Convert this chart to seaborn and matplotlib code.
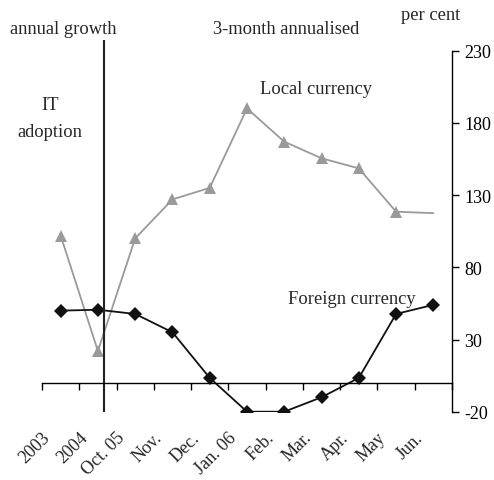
import numpy as np
import pandas as pd
import matplotlib
matplotlib.use("Agg")
import matplotlib.pyplot as plt
import matplotlib.transforms as mtransforms
import seaborn as sns

categories = ["2003", "2004", "Oct. 05", "Nov.", "Dec.", "Jan. 06", "Feb.", "Mar.", "Apr.", "May", "Jun."]
local_currency = [102, 22, 100, 127, 135, 190, 167, 155.5, 148.5, 118.5, 117.5]
foreign_currency = [50, 50.6, 47.7, 35, 3.4, -20, -20, -10, 3.4, 47.7, 54]
y_ticks = [-20, 30, 80, 130, 180, 230]
it_adoption_pos = 1.16

sns.set_style("white")
plt.rcParams["font.family"] = ["Liberation Serif", "DejaVu Serif"]
plt.rcParams["font.size"] = 13
plt.rcParams["axes.unicode_minus"] = False

fig = plt.figure(figsize=(4.94, 4.81), dpi=100)
ax = fig.add_axes([42 / 494, 1 - 412.7 / 481, 410 / 494, (412.7 - 51.7) / 481])

x = np.arange(len(categories))
df = pd.DataFrame({"x": x, "local": local_currency, "foreign": foreign_currency})

sns.lineplot(data=df, x="x", y="local", ax=ax, color="#9a9a9a", linewidth=1.3,
             marker="^", markersize=9, markeredgewidth=0, markerfacecolor="#9a9a9a",
             markevery=list(range(len(categories) - 1)))
sns.lineplot(data=df, x="x", y="foreign", ax=ax, color="#111111", linewidth=1.3,
             marker="D", markersize=7, markeredgewidth=0, markerfacecolor="#111111")

ax.set_xlim(-0.5, len(categories) - 0.5)
ax.set_ylim(-20, 230)

# right axis only
ax.spines["left"].set_visible(False)
ax.spines["top"].set_visible(False)
ax.spines["right"].set_color("black")
ax.spines["right"].set_linewidth(1.0)
ax.spines["bottom"].set_position(("data", 0))
ax.spines["bottom"].set_color("black")
ax.spines["bottom"].set_linewidth(1.0)
ax.yaxis.tick_right()
ax.set_yticks(y_ticks)
ax.tick_params(axis="y", which="major", right=True, direction="out", length=5, width=1,
               colors="black", pad=4, labelsize=13)

ax.set_xticks(x)
ax.set_xticklabels(categories, rotation=45, ha="right")
ax.set_xticks(np.arange(-0.5, len(categories)), minor=True)
ax.tick_params(axis="x", which="major", bottom=True, length=0, pad=33, labelsize=13)
ax.tick_params(axis="x", which="minor", bottom=True, direction="out", length=5, width=1,
               colors="black")
offset = mtransforms.ScaledTranslation(-0.07, 0, fig.dpi_scale_trans)
for lab in ax.get_xticklabels():
    lab.set_transform(lab.get_transform() + offset)
ax.set_xlabel("")
ax.set_ylabel("")

ax.vlines(it_adoption_pos, -20, 237.5, color="#222222", linewidth=1.5, clip_on=False)

fig.text(10 / 494, 1 - 30 / 481, "annual growth", ha="left", va="center", fontsize=13.3)
fig.text(286 / 494, 1 - 30 / 481, "3-month annualised", ha="center", va="center", fontsize=13.3)
fig.text(431 / 494, 1 - 15 / 481, "per cent", ha="center", va="center", fontsize=13.3)
fig.text(50 / 494, 1 - 106 / 481, "IT", ha="center", va="center", fontsize=13.3)
fig.text(50 / 494, 1 - 133 / 481, "adoption", ha="center", va="center", fontsize=13.3)
fig.text(316 / 494, 1 - 90 / 481, "Local currency", ha="center", va="center", fontsize=13.3)
fig.text(352 / 494, 1 - 300 / 481, "Foreign currency", ha="center", va="center", fontsize=13.3)

fig.savefig("out.png", dpi=100)
